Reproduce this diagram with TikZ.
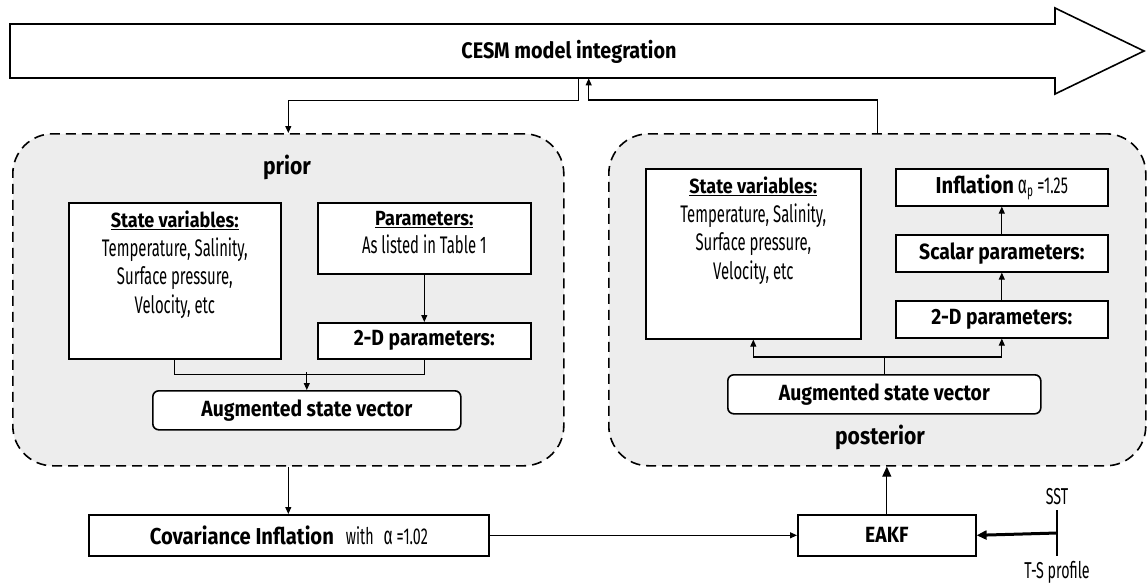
\documentclass[tikz,border=0pt]{standalone}
\usepackage{fontspec}
\setmainfont{Fira Sans}[FakeStretch=0.62,BoldFeatures={FakeStretch=0.88}]
\usetikzlibrary{arrows.meta,calc}
\definecolor{panel}{HTML}{EDEDED}
\begin{document}
\begin{tikzpicture}[x=1pt,y=-1pt,
  box/.style={draw,line width=1.6pt,fill=white,inner sep=0pt},
  abox/.style={box,rounded corners=6pt},
  panelbox/.style={draw,line width=1.6pt,dash pattern=on 10pt off 6pt,fill=panel,rounded corners=40pt,inner sep=0pt},
  hd/.style={font=\fontsize{22}{24}\selectfont\bfseries},
  lbl/.style={font=\fontsize{24}{28}\selectfont\bfseries},
  tx/.style={font=\fontsize{24}{28.5}\selectfont,align=center,inner sep=0pt},
  conn/.style={line width=1.1pt},
  tip/.style={-{Triangle[length=7pt,width=6pt]}},
  bigtip/.style={-{Triangle[length=10pt,width=9pt]}},
]
\useasboundingbox (0,0) rectangle (1147,582);

% CESM model integration arrow
\draw[line width=1.6pt,fill=white,line join=miter] (10,24) -- (1055,24) -- (1055,8) -- (1144,51) -- (1055,94) -- (1055,78) -- (10,78) -- cycle;
\node[minimum width=1045,minimum height=54,anchor=north west,inner sep=0pt] (cesm) at (10,24) {};
\node[font=\fontsize{22.5}{26}\selectfont\bfseries] (cesmlbl) at (569,52) {CESM model integration};

% panels
\node[panelbox,minimum width=551,minimum height=332,anchor=north west] (prior) at (12,133) {};
\node[panelbox,minimum width=537,minimum height=332,anchor=north west] (post) at (608,133) {};

\draw[conn,tip] ([xshift=46pt]cesm.south) -- ++(0,22) -| (prior.north);
\draw[conn,tip] (post.north) -- ++(0,-33) -| ([xshift=56pt]cesm.south);

% prior contents
\node[lbl] (priorlbl) at (287,167) {prior};
\node[box,minimum width=212,minimum height=156,anchor=north west] (psv) at (68,202) {};
\node[tx,anchor=north] (psvt) at ([yshift=-9pt]psv.north) {{\fontsize{20.5}{24}\selectfont\textbf{\underline{State variables:}}}\\Temperature, Salinity,\\Surface pressure,\\Velocity, etc};
\node[box,minimum width=213,minimum height=71,anchor=north west] (ppar) at (317,202) {};
\node[tx,anchor=north] (ppart) at ([yshift=-9pt]ppar.north) {{\fontsize{20.5}{24}\selectfont\textbf{\underline{Parameters:}}}\\As listed in Table 1};
\node[box,hd,minimum width=213,minimum height=36,anchor=north west] (p2d) at (317,322) {2-D parameters:};
\node[abox,hd,minimum width=308,minimum height=39,anchor=north west] (paug) at (152,390) {Augmented state vector};
\draw[conn,tip] (ppar.south) -- (p2d.north);
\draw[conn] (psv.south) -- ++(0,15) -| (p2d.south);
\draw[conn,tip] ($(paug.north)+(0,-18)$) -- (paug.north);

% posterior contents
\node[box,minimum width=215,minimum height=170,anchor=north west] (qsv) at (645,168) {};
\node[tx,anchor=north] (qsvt) at ([yshift=-9pt]qsv.north) {{\fontsize{20.5}{24}\selectfont\textbf{\underline{State variables:}}}\\Temperature, Salinity,\\Surface pressure,\\Velocity, etc};
\node[box,minimum width=212,minimum height=37,anchor=north west,font=\fontsize{23}{24}\selectfont] (qinf) at (895,168) {\textbf{Inflation} {\fontsize{25}{24}\selectfont α}\textsubscript{p}\,=1.25};
\node[box,hd,minimum width=212,minimum height=37,anchor=north west] (qsc) at (895,234) {Scalar parameters:};
\node[box,hd,minimum width=212,minimum height=37,anchor=north west] (q2d) at (895,300) {2-D parameters:};
\node[abox,hd,minimum width=313,minimum height=39,anchor=north west] (qaug) at (727,374) {Augmented state vector};
\node[lbl] (postlbl) at (880,437) {posterior};
\draw[conn,tip] (q2d.north) -- (qsc.south);
\draw[conn,tip] (qsc.north) -- (qinf.south);
\draw[conn,tip] (qaug.north) -- ++(0,-17) -| (qsv.south);
\draw[conn,tip] (qaug.north) -- ++(0,-17) -| (q2d.south);

% bottom row
\node[box,minimum width=400,minimum height=41,anchor=north west,font=\fontsize{23}{24}\selectfont] (cov) at (88,514) {\textbf{Covariance Inflation}\hspace{12pt}with\hspace{10pt}{\fontsize{25}{24}\selectfont α} =1.02};
\node[box,hd,minimum width=178,minimum height=41,anchor=north west] (eakf) at (797,514) {EAKF};
\draw[conn,tip] (prior.south) -- (prior.south |- cov.north);
\draw[conn,tip] (cov.east) -- (eakf.west);
\draw[conn,bigtip] (eakf.north) -- (eakf.north |- post.south);
\node[minimum height=45,minimum width=0pt,inner sep=0pt] (bar) at (1057,533) {};
\draw[line width=1.2pt] (bar.north) -- (bar.south);
\node[tx,anchor=south,font=\fontsize{23}{24}\selectfont] (sst) at ([yshift=5pt]bar.north) {SST};
\node[tx,anchor=north,font=\fontsize{23}{24}\selectfont] (ts) at ([yshift=-5pt]bar.south) {T-S profile};
\draw[line width=3pt,bigtip] (bar.center) -- (eakf.east);
\end{tikzpicture}
\end{document}
